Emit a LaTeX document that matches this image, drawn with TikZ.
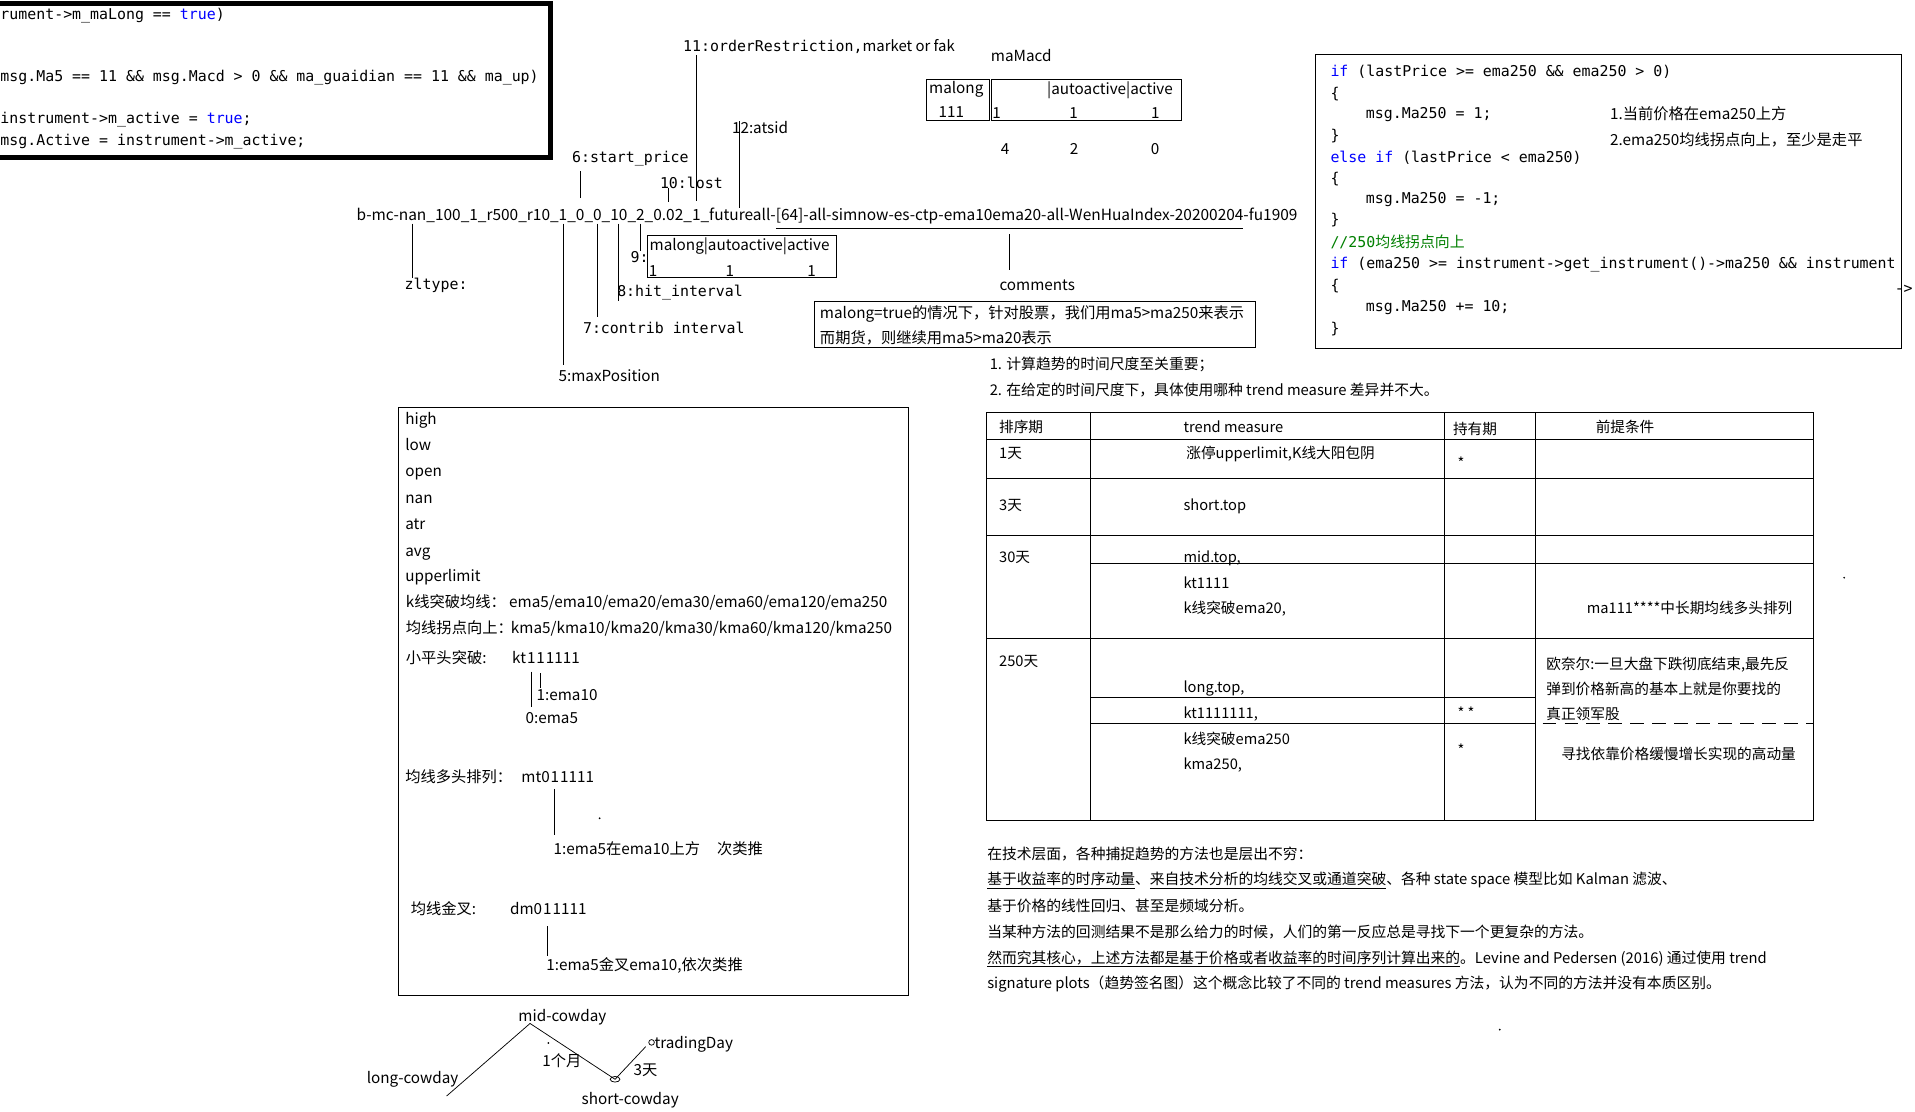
\documentclass[tikz,border=0pt]{standalone}
\usepackage{fontspec}
\setmainfont{Noto Sans CJK SC}
\setmonofont{DejaVu Sans Mono}
\newfontfamily\cjk{Noto Sans CJK SC}
\usetikzlibrary{positioning, calc}
\definecolor{kwblue}{RGB}{0,0,255}
\definecolor{cmtgreen}{RGB}{0,128,0}

\begin{document}
\begin{tikzpicture}[x=1pt, y=-1pt, line width=0.8pt]
    \tikzstyle{txt} = [anchor=west, inner sep=0pt, font=\fontsize{12.5}{15}\selectfont, text height=10pt, text depth=3pt]
    \tikzstyle{code} = [anchor=west, inner sep=0pt, font=\ttfamily\fontsize{12.2}{14}\selectfont, text height=9pt, text depth=3pt]
    \tikzstyle{seg} = [inner sep=0pt, outer sep=0pt, font=\fontsize{12.65}{15}\selectfont, text height=10pt, text depth=3pt]
    \tikzstyle{cell} = [txt, font=\fontsize{12}{14}\selectfont]
    \tikzstyle{para} = [txt, font=\fontsize{12.1}{14}\selectfont]
    \tikzstyle{frame} = [draw, inner sep=0pt, outer sep=0pt, anchor=north west]
    \tikzstyle{tick} = [line width=0.8pt]

    \useasboundingbox (0,0) rectangle (1568,910);
    \fill[white] (0,0) rectangle (1568,910);

    % Frames
    \node[frame, line width=4pt, minimum width=456, minimum height=126] (codebox) at (-5,3) {};
    \node[frame, minimum width=155, minimum height=34] (flagbox) at (530,193) {};
    \node[frame, minimum width=51, minimum height=34] (mlbox) at (759,65) {};
    \node[frame, minimum width=156, minimum height=34] (actbox) at (811.5,65) {};
    \node[frame, minimum width=361, minimum height=37.5] (notebox) at (667,247) {};
    \node[frame, minimum width=480, minimum height=240] (ma250box) at (1077,45) {};
    \node[frame, minimum width=418, minimum height=481] (attrbox) at (326,334) {};

    \begin{scope}[yshift=-2pt]
    % Code box, top left
    \node[code] (cl1) at (0,11) {rument->m\_maLong == \textcolor{kwblue}{true})};
    \node[code] (cl2) at (0,62) {msg.Ma5 == 11 \&\& msg.Macd > 0 \&\& ma\_guaidian == 11 \&\& ma\_up)};
    \node[code] (cl3) at (0,96) {instrument->m\_active = \textcolor{kwblue}{true};};
    \node[code] (cl4) at (0,114) {msg.Active = instrument->m\_active;};

    % Strategy name, split into fields
    \node[seg, anchor=west] (pre) at (292,174.7) {b-mc-};
    \node[seg, base right=0pt of pre] (zlpart) {nan};
    \node[seg, base right=0pt of zlpart] (u0) {\_100\_1\_r500\_r10\_};
    \node[seg, base right=0pt of u0] (pmax) {1};
    \node[seg, base right=0pt of pmax] (u1) {\_};
    \node[seg, base right=0pt of u1] (pstart) {0};
    \node[seg, base right=0pt of pstart] (u2) {\_};
    \node[seg, base right=0pt of u2] (pcontrib) {0};
    \node[seg, base right=0pt of pcontrib] (u3) {\_};
    \node[seg, base right=0pt of u3] (phit) {10};
    \node[seg, base right=0pt of phit] (u4) {\_};
    \node[seg, base right=0pt of u4] (pflag) {2};
    \node[seg, base right=0pt of pflag] (u5) {\_};
    \node[seg, base right=0pt of u5] (plost) {0.02};
    \node[seg, base right=0pt of plost] (u6) {\_};
    \node[seg, base right=0pt of u6] (porder) {1};
    \node[seg, base right=0pt of porder] (u7) {\_};
    \node[seg, base right=0pt of u7] (patsid) {futureall};
    \node[seg, base right=0pt of patsid] (u8) {-};
    \node[seg, base right=0pt of u8] (pcomment) {[64]-all-simnow-es-ctp-ema10ema20-all-WenHuaIndex-20200204};
    \node[seg, base right=0pt of pcomment] (ptail) {-fu1909};

    % Field labels
    \node[code] (zllabel) at (331,232) {zltype:};
    \node[txt] (maxlabel) at (457,307) {5:maxPosition};
    \node[code] (startlabel) at (468,128) {6:start\_price};
    \node[code] (contriblabel) at (477,268) {7:contrib interval};
    \node[code] (hitlabel) at (505,238) {8:hit\_interval};
    \node[code] (flaglabel) at (516,210) {9:};
    \node[code] (lostlabel) at (540,149) {10:lost};
    \node[code] (orderlabel) at (559,37) {11:orderRestriction,{\rmfamily market or fak}};
    \node[txt] (atsidlabel) at (599,104) {12:atsid};
    \node[txt] (cmtlabel) at (818,232) {comments};

    \node[txt] (flaghead) at (531.5,199.5) {malong|autoactive|active};
    \node[txt, anchor=center] (flagv1) at (534.8,220.5) {1};
    \node[txt, anchor=center] (flagv2) at (597.7,220.5) {1};
    \node[txt, anchor=center] (flagv3) at (664.6,220.5) {1};

    % maMacd bits
    \node[txt] (mamacd) at (811,45) {maMacd};
    \node[txt, anchor=center] (mlhead) at (783,71) {malong};
    \node[txt, anchor=center] (mlval) at (779,91) {111};
    \node[txt] (acthead) at (857,72) {|autoactive|active};
    \node[txt, anchor=center] (actv1) at (816,91.5) {1};
    \node[txt, anchor=center] (actv2) at (879,91.5) {1};
    \node[txt, anchor=center] (actv3) at (946,91.5) {1};
    \node[txt, anchor=center] (bit4) at (823,120.6) {4};
    \node[txt, anchor=center] (bit2) at (879.4,120.6) {2};
    \node[txt, anchor=center] (bit0) at (945.7,120.6) {0};

    % Comment note
    \node[txt] (note1) at (671,255.5) {malong=true的情况下，针对股票，我们用ma5>ma250来表示};
    \node[txt] (note2) at (671,276) {而期货，则继续用ma5>ma20表示};
    \node[para] (point1) at (810,297) {1. 计算趋势的时间尺度至关重要；};
    \node[para] (point2) at (810,318) {2. 在给定的时间尺度下，具体使用哪种 trend measure 差异并不大。};

    % Code box, top right
    \node[code] (rl1) at (1089,58) {\textcolor{kwblue}{if} (lastPrice >= ema250 \&\& ema250 > 0)};
    \node[code] (rl2) at (1089,76) {\{};
    \node[code] (rl3) at (1118,92) {msg.Ma250 = 1;};
    \node[code] (rl4) at (1089,110) {\}};
    \node[code] (rl5) at (1089,128) {\textcolor{kwblue}{else if} (lastPrice < ema250)};
    \node[code] (rl6) at (1089,145) {\{};
    \node[code] (rl7) at (1118,162) {msg.Ma250 = -1;};
    \node[code] (rl8) at (1089,179) {\}};
    \node[code] (rl9) at (1089,197.5) {\textcolor{cmtgreen}{//250{\cjk 均线拐点向上}}};
    \node[code] (rl10) at (1089,215) {\textcolor{kwblue}{if} (ema250 >= instrument->get\_instrument()->ma250 \&\& instrument};
    \node[code] (rl11) at (1089,233) {\{};
    \node[code] (rl12) at (1118,250) {msg.Ma250 += 10;};
    \node[code] (rl13) at (1089,268) {\}};
    \node[code] (rlcut) at (1551,235) {->};
    \node[txt] (rnote1) at (1318,92) {1.当前价格在ema250上方};
    \node[txt] (rnote2) at (1318,114) {2.ema250均线拐点向上，至少是走平};

    % Field list box
    \node[txt] (fhigh) at (331.5,342) {high};
    \node[txt] (flow) at (331.5,363.5) {low};
    \node[txt] (fopen) at (331.5,385) {open};
    \node[txt] (fnan) at (331.5,407) {nan};
    \node[txt] (fatr) at (331.5,428) {atr};
    \node[txt] (favg) at (331.5,450) {avg};
    \node[txt] (fupper) at (331.5,470.6) {upperlimit};
    \node[txt] (fkbreak) at (332,491.6) {k线突破均线：};
    \node[txt] (fkbreakv) at (416.5,491.6) {ema5/ema10/ema20/ema30/ema60/ema120/ema250};
    \node[txt] (fturn) at (332,513) {均线拐点向上：};
    \node[txt] (fturnv) at (418,513) {kma5/kma10/kma20/kma30/kma60/kma120/kma250};

    \node[txt] (ktcap) at (332,538) {小平头突破:};
    \node[txt] (ktname) at (419,538) {kt};
    \node[txt, base right=0pt of ktname] (ktbit0) {1};
    \node[txt, base right=0pt of ktbit0] (ktbit1) {1};
    \node[txt, base right=0pt of ktbit1] (ktrest) {1111};
    \node[txt] (ema10label) at (439,568) {1:ema10};
    \node[txt] (ema5label) at (430,587) {0:ema5};

    \node[txt] (mtcap) at (331.5,635) {均线多头排列：};
    \node[txt] (mtname) at (426.5,635) {mt0};
    \node[txt, base right=0pt of mtname] (mtbit1) {1};
    \node[txt, base right=0pt of mtbit1] (mtrest) {1111};
    \node[txt] (mtlabel) at (453,694.4) {1:ema5在ema10上方\hspace{14pt}次类推};

    \node[txt] (dmcap) at (336,743.3) {均线金叉:};
    \node[txt] (dmname) at (417.3,743.3) {dm0};
    \node[txt, base right=0pt of dmname] (dmbit1) {1};
    \node[txt, base right=0pt of dmbit1] (dmrest) {1111};
    \node[txt] (dmlabel) at (447,789.4) {1:ema5金叉ema10,依次类推};

    % Cowday sketch labels
    \node[txt, anchor=center] (longcow) at (337.8,882) {long-cowday};
    \node[txt, anchor=center] (midcow) at (460.5,831) {mid-cowday};
    \node[txt, anchor=center] (shortcow) at (516,898.5) {short-cowday};
    \node[txt] (tradeday) at (535.5,853) {tradingDay};
    \node[txt, anchor=center] (monthlbl) at (460,867.4) {1个月};
    \node[txt, anchor=center] (daylbl) at (528.5,874.7) {3天};

    % Trend measure table
    \node[cell] (hdsort) at (817.7,348.4) {排序期};
    \node[cell] (hdmeasure) at (968.7,348.4) {trend measure};
    \node[cell] (hdhold) at (1189.3,350.6) {持有期};
    \node[cell] (hdcond) at (1306.2,348.4) {前提条件};
    \node[cell] (r1day) at (817.7,369.7) {1天};
    \node[cell] (r1measure) at (971,369.7) {涨停upperlimit,K线大阳包阴};
    \node[cell] (r1hold) at (1193,378) {*};
    \node[cell] (r3day) at (817.7,412.6) {3天};
    \node[cell] (r3measure) at (968.7,412.6) {short.top};
    \node[cell] (r30day) at (817.7,454.9) {30天};
    \node[cell] (r30mid) at (968.7,454.9) {mid.top,};
    \node[cell] (r30kt) at (968.7,476.4) {kt1111};
    \node[cell] (r30ema) at (968.7,497.2) {k线突破ema20,};
    \node[cell] (r30cond) at (1298.9,497.2) {ma111****中长期均线多头排列};
    \node[cell] (r250day) at (817.7,540.4) {250天};
    \node[cell] (r250long) at (968.7,561.4) {long.top,};
    \node[cell] (r250kt) at (968.7,582.7) {kt1111111,};
    \node[cell] (r250hold1) at (1193,582.5) {* *};
    \node[cell] (r250ema) at (968.7,603.7) {k线突破ema250};
    \node[cell] (r250kma) at (968.7,624.9) {kma250,};
    \node[cell] (r250hold2) at (1193,613.5) {*};
    \node[cell] (r250cond1) at (1265.8,542.3) {欧奈尔:一旦大盘下跌彻底结束,最先反};
    \node[cell] (r250cond2) at (1265.8,563) {弹到价格新高的基本上就是你要找的};
    \node[cell] (r250cond3) at (1265.8,583.8) {真正领军股};
    \node[cell] (r250cond4) at (1278,616.6) {寻找依靠价格缓慢增长实现的高动量};

    % Closing text
    \node[para] (txt1) at (808,698) {在技术层面，各种捕捉趋势的方法也是层出不穷：};
    \node[para] (txt2) at (808,719) {\underline{基于收益率的时序动量}、\underline{来自技术分析的均线交叉或通道突破}、各种 state space 模型比如 Kalman 滤波、};
    \node[para] (txt3) at (808,741) {基于价格的线性回归、甚至是频域分析。};
    \node[para] (txt4) at (808,762) {当某种方法的回测结果不是那么给力的时候，人们的第一反应总是寻找下一个更复杂的方法。};
    \node[para] (txt5) at (808,783) {\underline{然而究其核心，上述方法都是基于价格或者收益率的时间序列计算出来的}。Levine and Pedersen (2016) 通过使用 trend};
    \node[para] (txt6) at (808,804) {signature plots（趋势签名图）这个概念比较了不同的 trend measures 方法，认为不同的方法并没有本质区别。};
    \end{scope}

    % Connections
    \draw[tick] (zlpart.south) -- (zlpart.south |- zllabel.north);
    \draw[tick, shorten >=3pt] (pmax.south) -- (pmax.south |- maxlabel.north);
    \draw[tick, shorten <=8pt, shorten >=4pt] (pstart.north) -- (pstart.north |- startlabel.south);
    \draw[tick, shorten >=4pt] (pcontrib.south) -- (pcontrib.south |- contriblabel.north);
    \draw[tick] (phit.south) -- (phit.south |- hitlabel.south);
    \draw[tick] (pflag.south) -- (pflag.south |- flaglabel.north);
    \draw[tick] ($(plost.north)+(0,-5)$) -- ($(plost.north |- lostlabel.center)+(0,3)$);
    \draw[tick, shorten <=6pt] (porder.north) -- (porder.north |- orderlabel.south);
    \draw[tick] (patsid.north) -- (patsid.north |- atsidlabel.north);
    \draw[tick] ($(pcomment.south west)+(0,3.5)$) -- ($(pcomment.south east)+(0,3.5)$);
    \draw[tick, shorten <=8.5pt, shorten >=6pt] (pcomment.south) -- (pcomment.south |- cmtlabel.north);

    \draw[tick, shorten <=3pt, shorten >=3.5pt] (ktbit0.south) -- (ktbit0.south |- ema5label.north);
    \draw[tick, shorten <=4.5pt] (ktbit1.south) -- (ktbit1.south |- ema10label.north);
    \draw[tick, shorten <=2pt, shorten >=6pt] (mtbit1.south) -- (mtbit1.south |- mtlabel.north);
    \draw[tick, shorten <=6pt, shorten >=2pt] (dmbit1.south) -- (dmbit1.south |- dmlabel.north);

    % Cowday sketch
    \coordinate (longpt) at (365.7,897.4);
    \coordinate (midpt) at (434,838);
    \coordinate (shortpt) at (503.6,883.7);
    \coordinate (tradept) at (528.7,857);
    \draw[line width=0.6pt] (longpt) -- (midpt) -- (shortpt) -- (tradept);
    \draw[line width=0.6pt] (shortpt) ellipse [x radius=4, y radius=2.3];
    \draw[line width=0.6pt] (533.5,853.5) circle [radius=2.3];

    % Table rules
    \draw (808,338) rectangle (1485,672);
    \draw (893,338) -- (893,672);
    \draw (1183,338) -- (1183,672);
    \draw (1257,338) -- (1257,672);
    \draw (808,360) -- (1485,360);
    \draw (808,392) -- (1485,392);
    \draw (808,438.5) -- (1485,438.5);
    \draw (893,461) -- (1485,461);
    \draw (808,522.5) -- (1485,522.5);
    \draw (893,571.5) -- (1257,571.5);
    \draw (893,592.5) -- (1257,592.5);
    \draw[dash pattern=on 11pt off 7pt] (1263,592.5) -- (1485,592.5);

    % stray specks
    \fill (491,670) circle [radius=0.8];
    \fill (449,854) circle [radius=0.8];
    \fill (1510,473) circle [radius=0.8];
    \fill (1228,843) circle [radius=0.8];
\end{tikzpicture}
\end{document}
